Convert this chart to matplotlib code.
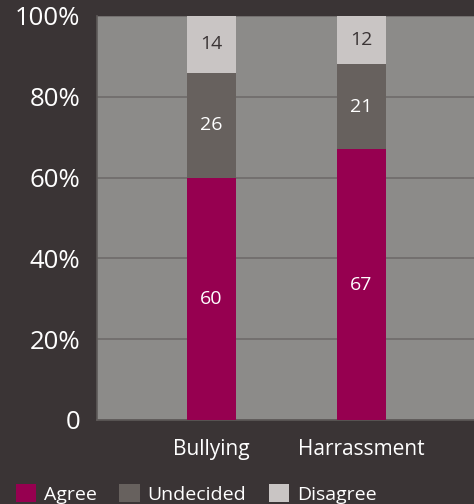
import numpy as np
import matplotlib.pyplot as plt
from matplotlib.patches import Patch

categories = ["Bullying", "Harrassment"]
agree = [60, 67]
undecided = [26, 21]
disagree = [14, 12]
series_names = ["Agree", "Undecided", "Disagree"]

bg = "#3a3435"
panel = "#8c8b89"
colors = ["#960050", "#67615e", "#c9c5c4"]
label_colors = ["white", "white", "#3a3435"]

plt.rcParams["font.family"] = ["Open Sans", "DejaVu Sans"]

fig = plt.figure(figsize=(4.74, 5.04), dpi=100, facecolor=bg)
ax = fig.add_axes([0.2046, 0.1667, 0.7954, 0.8016])
ax.set_facecolor(panel)

x = np.arange(len(categories))
bar_width = 0.327
bottom = np.zeros(len(categories))
for vals, col, tcol in zip([agree, undecided, disagree], colors, label_colors):
    vals = np.array(vals, dtype=float)
    bars = ax.bar(x, vals, bar_width, bottom=bottom, color=col, zorder=3)
    for b, v, b0 in zip(bars, vals, bottom):
        ax.text(b.get_x() + b.get_width() / 2, b0 + v / 2, f"{v:.0f}",
                ha="center", va="center", color=tcol, fontsize=14, zorder=4)
    bottom += vals

ax.set_xlim(-0.763, 1.75)
ax.set_ylim(0, 100)
ax.set_yticks([0, 20, 40, 60, 80, 100])
ax.set_yticklabels(["0", "20%", "40%", "60%", "80%", "100%"])
ax.set_xticks(x)
ax.set_xticklabels(categories)
ax.tick_params(axis="y", length=0, pad=12, labelsize=18.5, colors="white")
ax.tick_params(axis="x", length=0, pad=13.5, labelsize=15, colors="white")

ax.grid(axis="y", color="#6e6b6a", linewidth=1.2, zorder=1)
ax.set_axisbelow(True)
for s in ["top", "right"]:
    ax.spines[s].set_visible(False)
for s in ["left", "bottom"]:
    ax.spines[s].set_color("#5e5a59")
    ax.spines[s].set_linewidth(1.2)

handles = [Patch(facecolor=c, edgecolor="none") for c in colors]
fig.legend(handles, series_names, loc="lower left", bbox_to_anchor=(16 / 474, 0.0),
           borderaxespad=0, borderpad=0,
           ncol=3, frameon=False, fontsize=14, labelcolor="white",
           handlelength=1.05, handleheight=1.05, handletextpad=0.4, columnspacing=1.15)

fig.savefig("out.png", dpi=100, facecolor=bg)
